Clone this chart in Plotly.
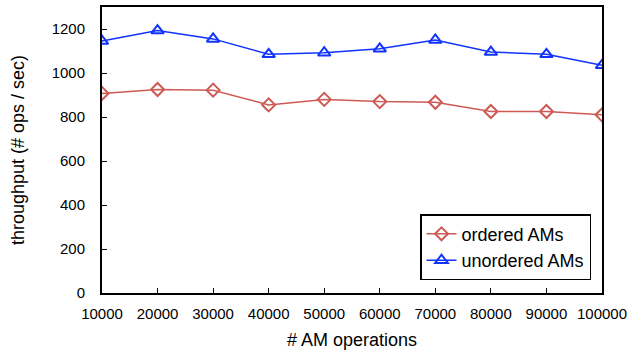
import plotly.graph_objects as go

ops = [10000, 20000, 30000, 40000, 50000, 60000, 70000, 80000, 90000, 100000]
ordered = [907, 925, 922, 855, 880, 870, 867, 825, 825, 810]
unordered = [1145, 1193, 1155, 1085, 1092, 1110, 1150, 1095, 1085, 1035]
x_ticks = [str(v) for v in ops]
y_ticks = [0, 200, 400, 600, 800, 1000, 1200]

fig = go.Figure()
fig.add_trace(go.Scatter(x=ops, y=ordered, mode="lines+markers", name="ordered AMs",
                         line=dict(color="#CD5A55", width=1.5),
                         marker=dict(symbol="diamond-open", size=10, color="#CD5A55", line=dict(width=2))))
fig.add_trace(go.Scatter(x=ops, y=unordered, mode="lines+markers", name="unordered AMs",
                         line=dict(color="#1133FF", width=1.5),
                         marker=dict(symbol="triangle-up-open", size=11, color="#1133FF", line=dict(width=2))))

font = "Liberation Sans, Arial, sans-serif"
fig.update_layout(
    width=632, height=354,
    margin=dict(l=102, r=25, t=5, b=61),
    paper_bgcolor="white", plot_bgcolor="white",
    font=dict(family=font, size=15, color="black"),
    showlegend=True,
    legend=dict(x=0.978, y=0.045, xanchor="right", yanchor="bottom",
                bordercolor="black", borderwidth=1.5, bgcolor="white",
                font=dict(size=18), tracegroupgap=2),
    xaxis=dict(range=[10000, 100000], tickvals=ops, ticktext=x_ticks,
               ticks="inside", ticklen=5, tickcolor="black",
               ticklabelstandoff=6, ticklabeloverflow="allow",
               showline=True, linecolor="black", linewidth=2, mirror=True,
               showgrid=False, zeroline=False,
               title=dict(text="# AM operations", font=dict(size=18), standoff=12)),
    yaxis=dict(range=[0, 1300], tickvals=y_ticks,
               ticks="inside", ticklen=5, tickcolor="black",
               ticklabelstandoff=12,
               showline=True, linecolor="black", linewidth=2, mirror=True,
               showgrid=False, zeroline=False,
               title=dict(text="throughput (# ops / sec)", font=dict(size=18), standoff=22)),
)
fig.write_html("out.html")
